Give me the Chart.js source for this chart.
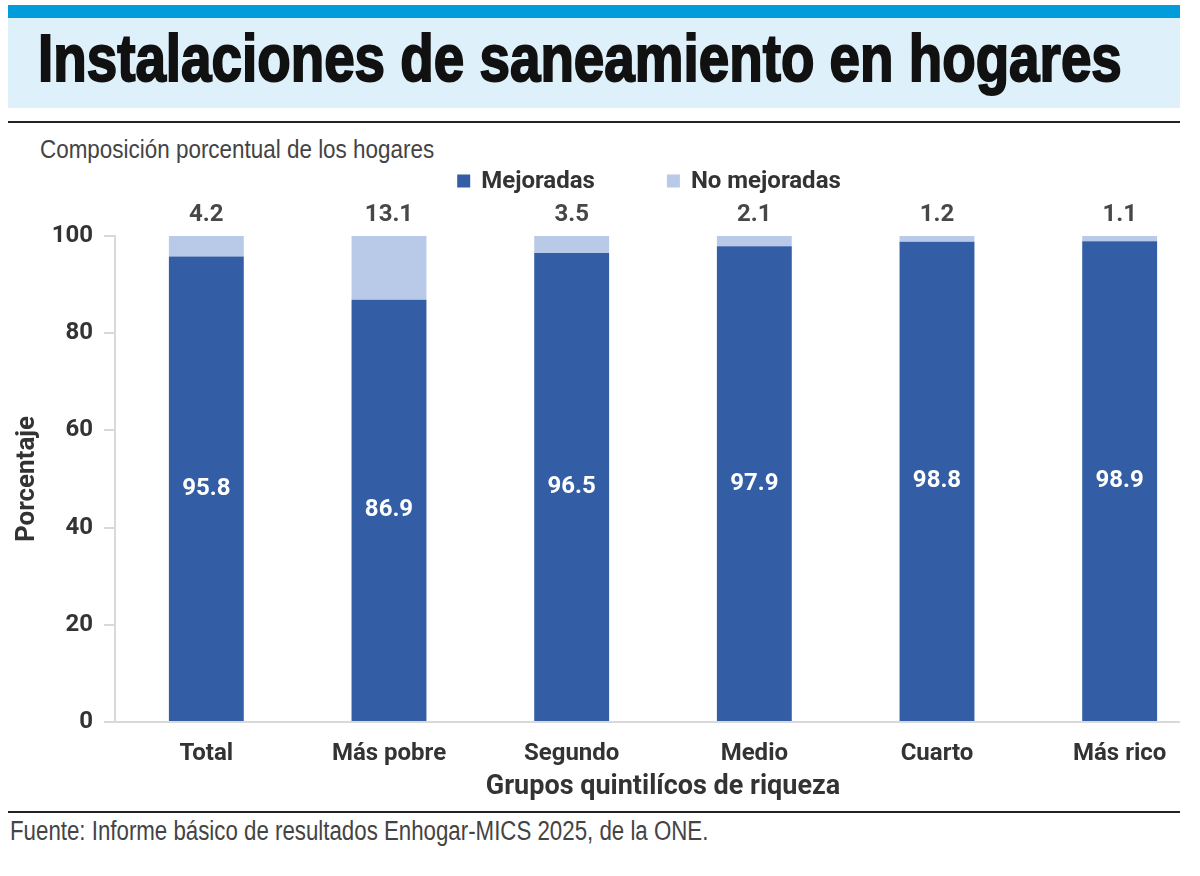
<!DOCTYPE html>
<html>
<head>
<meta charset="utf-8">
<script src="https://cdn.jsdelivr.net/npm/chart.js@4.4.1/dist/chart.umd.min.js"></script>
<style>
    body { margin: 0; width: 1200px; height: 876px; background: #fff; overflow: hidden; position: relative; font-family: Roboto, sans-serif; }
    .abs { position: absolute; white-space: nowrap; transform-origin: left top; }
    #stripe { left: 8px; top: 5px; width: 1172px; height: 13px; background: #009cdc; }
    #header { left: 8px; top: 18px; width: 1172px; height: 90px; background: #def0fa; }
    #title { left: 38px; top: 25px; font-family: "Liberation Sans Narrow", "Liberation Sans", sans-serif; font-weight: bold; font-size: 66px; line-height: 1; color: #111; -webkit-text-stroke: 2px #111; }
    #rule1 { left: 8px; top: 121px; width: 1172px; height: 2px; background: #222; }
    #subtitle { left: 40px; top: 137px; font-family: "Liberation Sans Narrow", "Liberation Sans", sans-serif; font-size: 25px; line-height: 1; color: #444; }
    #clip { left: 0; top: 160px; width: 1180px; height: 650px; overflow: hidden; }
    #box { position: relative; width: 1230px; height: 650px; }
    #rule2 { left: 8px; top: 811px; width: 1172px; height: 2px; background: #222; }
    #source { left: 10px; top: 818px; font-family: "Liberation Sans Narrow", "Liberation Sans", sans-serif; font-size: 27px; line-height: 1; color: #444; }
</style>
</head>
<body>
<div id="stripe" class="abs"></div>
<div id="header" class="abs"></div>
<div id="title" class="abs">Instalaciones de saneamiento en hogares</div>
<div id="rule1" class="abs"></div>
<div id="subtitle" class="abs">Composición porcentual de los hogares</div>
<div id="clip" class="abs"><div id="box"><canvas id="chart-saneamiento"></canvas></div></div>
<div id="rule2" class="abs"></div>
<div id="source" class="abs">Fuente: Informe básico de resultados Enhogar-MICS 2025, de la ONE.</div>

<script>
const categories = ['Total', 'Más pobre', 'Segundo', 'Medio', 'Cuarto', 'Más rico'];
const mejoradas = [95.8, 86.9, 96.5, 97.9, 98.8, 98.9];
const noMejoradas = [4.2, 13.1, 3.5, 2.1, 1.2, 1.1];
const yTicks = [0, 20, 40, 60, 80, 100];

const azul = '#335ea6';
const celeste = '#b8cae8';

// the original uses condensed fonts, squeeze the texts to the same width
function ajustar(id, ancho) {
    const el = document.getElementById(id);
    el.style.transform = 'scaleX(' + (ancho / el.scrollWidth) + ')';
}
ajustar('title', 1084);
ajustar('subtitle', 394);
ajustar('source', 698);

Chart.defaults.font.family = 'Roboto, sans-serif';

// values inside and above the bars
const etiquetas = {
    id: 'etiquetas',
    afterDatasetsDraw(chart) {
        const ctx = chart.ctx;
        ctx.save();
        ctx.textAlign = 'center';
        ctx.textBaseline = 'middle';

        ctx.font = 'bold 24px Roboto';
        ctx.fillStyle = '#ffffff';
        chart.getDatasetMeta(0).data.forEach((bar, i) => {
            ctx.fillText(mejoradas[i].toFixed(1), bar.x, (bar.y + bar.base) / 2);
        });

        ctx.fillStyle = '#474747';
        chart.getDatasetMeta(1).data.forEach((bar, i) => {
            ctx.fillText(noMejoradas[i].toFixed(1), bar.x, bar.y - 21);
        });
        ctx.restore();
    }
};

// legend on one line, like the original
const leyenda = {
    id: 'leyenda',
    afterDraw(chart) {
        const ctx = chart.ctx;
        const y = 21;
        const box = 13, gapText = 11, gapItem = 72;
        ctx.save();
        ctx.font = 'bold 24px Roboto';
        ctx.textBaseline = 'middle';
        ctx.textAlign = 'left';
        const items = chart.data.datasets.map(ds => ({ text: ds.label, color: ds.backgroundColor, w: ctx.measureText(ds.label).width }));
        const total = items.reduce((s, it) => s + box + gapText + it.w, 0) + gapItem * (items.length - 1);
        let x = 649 - total / 2;
        items.forEach(it => {
            ctx.fillStyle = it.color;
            ctx.fillRect(x, y - box / 2, box, box);
            x += box + gapText;
            ctx.fillStyle = '#333333';
            ctx.fillText(it.text, x, y + 1);
            x += it.w + gapItem;
        });
        ctx.restore();
    }
};

const ctx1 = document.getElementById('chart-saneamiento');

new Chart(ctx1, {
    type: 'bar',
    data: {
        labels: categories,
        datasets: [{
            label: 'Mejoradas',
            data: mejoradas,
            backgroundColor: azul,
            borderWidth: 0
        }, {
            label: 'No mejoradas',
            data: noMejoradas,
            backgroundColor: celeste,
            borderWidth: 0
        }]
    },
    options: {
        responsive: true,
        maintainAspectRatio: false,
        animation: false,
        devicePixelRatio: 1,
        layout: {
            padding: { top: 76, left: 0, right: 19, bottom: 7 }
        },
        datasets: {
            bar: { categoryPercentage: 1, barPercentage: 0.41 }
        },
        scales: {
            x: {
                stacked: true,
                grid: { display: false, drawTicks: false },
                border: { display: true, color: '#d9d9d9', width: 2 },
                ticks: { color: '#333', padding: 18, font: { size: 24, weight: 'bold' } },
                title: {
                    display: true,
                    text: 'Grupos quintilícos de riqueza',
                    color: '#333',
                    font: { size: 27, weight: 'bold' },
                    padding: { top: 0, bottom: 0 }
                },
                afterFit: function (scale) { scale.height = 81; }
            },
            y: {
                stacked: true,
                min: 0,
                max: 100,
                afterBuildTicks: function (scale) { scale.ticks = yTicks.map(v => ({ value: v })); },
                grid: { drawOnChartArea: false, drawTicks: true, tickLength: 11, color: '#d9d9d9', lineWidth: 2 },
                border: { display: true, color: '#d9d9d9', width: 2 },
                ticks: { color: '#333', padding: 11, font: { size: 24, weight: 'bold' } },
                title: {
                    display: true,
                    text: 'Porcentaje',
                    color: '#333',
                    font: { size: 26, weight: 'bold' },
                    padding: { top: 12, bottom: 0 }
                },
                afterFit: function (scale) { scale.width = 115; }
            }
        },
        plugins: {
            legend: { display: false },
            tooltip: { enabled: false }
        }
    },
    plugins: [etiquetas, leyenda]
});
</script>
</body>
</html>
